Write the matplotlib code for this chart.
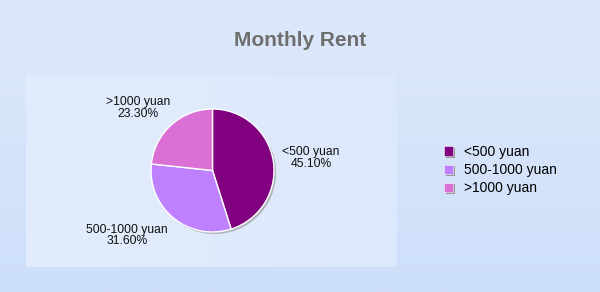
import numpy as np
import matplotlib
matplotlib.use('Agg')
from matplotlib import pyplot as plt
from matplotlib.colors import LinearSegmentedColormap
from matplotlib.patches import Rectangle
from matplotlib.legend_handler import HandlerPatch

plt.rcParams['font.family'] = ['Liberation Sans', 'DejaVu Sans']

##################
# data
##################
title = 'Monthly Rent'
categories = ['<500 yuan', '500-1000 yuan', '>1000 yuan']
shares = [45.1, 31.6, 23.3]
colors = ['#800080', '#bf80ff', '#da70d6']

##################
# layout (pixels, origin bottom-left)
##################
W, H = 600, 292
pie_center = (212.5, H - 170.5)
pie_radius = 61.5
label_pos = [(311, H - 158), (127, H - 235.5), (138, H - 108)]

fig = plt.figure(figsize=(W / 100, H / 100), dpi=100)

# background gradient
bg = fig.add_axes([0, 0, 1, 1])
bg.axis('off')
cmap_bg = LinearSegmentedColormap.from_list('bg', ['#dde9fb', '#cedffa'])
bg.imshow(np.linspace(0, 1, 256).reshape(-1, 1), aspect='auto', cmap=cmap_bg,
          extent=[0, 1, 0, 1])

# plot panel
panel = fig.add_axes([26 / W, (H - 267) / H, 371 / W, 192 / H])
panel.axis('off')
cmap_panel = LinearSegmentedColormap.from_list('panel', ['#e2ecfc', '#dce8fb'])
panel.imshow(np.linspace(0, 1, 256).reshape(1, -1), aspect='auto', cmap=cmap_panel,
             extent=[0, 1, 0, 1])

fig.text(0.5, (H - 41) / H, title, ha='center', va='center', fontsize=15,
         fontweight='bold', color='#6e6e6e')

##################
# pie
##################
ax = fig.add_axes([0, 0, 1, 1])
ax.patch.set_alpha(0)
wedges, _ = ax.pie(shares, colors=colors, startangle=90, counterclock=False,
                   center=pie_center, radius=pie_radius,
                   wedgeprops=dict(edgecolor='white', linewidth=1.0),
                   shadow=dict(ox=1.5, oy=-1.5, facecolor='#8c8c8c',
                               edgecolor='none', alpha=0.55))
ax.set_xlim(0, W)
ax.set_ylim(0, H)
ax.set_aspect('auto')
ax.axis('off')

for (x, y), name, v in zip(label_pos, categories, shares):
    ax.text(x, y, f'{name}\n{v:.2f}%', ha='center', va='center', fontsize=8.7,
            linespacing=1.0, color='#111111')


##################
# legend with shadowed squares
##################
class ShadowSquare(HandlerPatch):
    def create_artists(self, legend, orig_handle, xdescent, ydescent, width,
                       height, fontsize, trans):
        s = Rectangle((-xdescent + 1.2, -ydescent - 1.2), width, height,
                      facecolor='#9a9a9a', edgecolor='none', transform=trans)
        p = Rectangle((-xdescent, -ydescent), width, height,
                      facecolor=orig_handle.get_facecolor(), edgecolor='#f4f0f8',
                      linewidth=0.4, transform=trans)
        return [s, p]


fig.legend(handles=wedges, labels=categories, loc='upper left',
           bbox_to_anchor=(444 / W, (H - 145) / H), frameon=False,
           fontsize=10, handlelength=0.68, handleheight=0.68,
           handletextpad=0.75, labelspacing=0.3, borderpad=0, borderaxespad=0,
           handler_map={w: ShadowSquare() for w in wedges})

fig.savefig('out.png', dpi=100)
